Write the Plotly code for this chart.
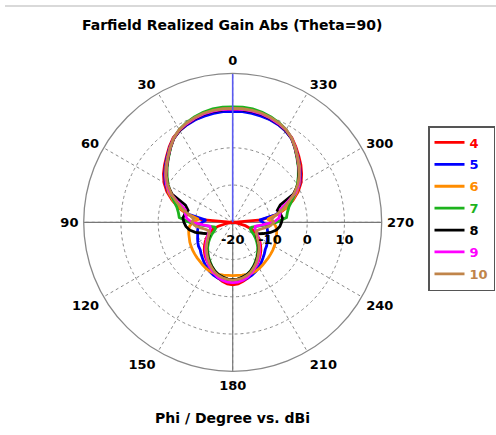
import plotly.graph_objects as go

phi = list(range(0, 360, 5))

names = ["4", "5", "6", "7", "8", "9", "10"]
colors = ["#FF0000", "#0000FF", "#FF8C00", "#1DB31D", "#000000", "#FF00FF", "#C0844A"]

gain_4 = [10.0, 10.0, 9.9, 9.7, 9.4, 9.0, 8.5, 7.8, 6.5, 5.1, 3.9, 2.7, 1.3, -0.5, -2.7, -5.0, -7.6, -11.6,
          -20, -20, -18.5, -16.0, -14.2, -13.0, -12.0, -11.0, -10.1, -9.2, -8.4, -7.7, -7.0, -6.1, -5.3, -4.6, -3.9, -3.4,
          -3.2, -3.4, -3.9, -4.5, -5.2, -6.0, -6.9, -7.7, -8.5, -9.3, -10.2, -11.1, -12.1, -13.2, -14.5, -16.5, -19.0, -20,
          -20, -12.3, -7.8, -5.1, -2.8, -0.6, 1.2, 2.6, 3.9, 5.1, 6.4, 7.7, 8.5, 9.0, 9.4, 9.7, 9.9, 10.0]
gain_5 = [9.8, 9.8, 9.7, 9.5, 9.3, 8.9, 8.4, 7.6, 6.3, 4.9, 3.6, 2.3, 0.9, -0.9, -3.1, -5.4, -8.2, -12.8,
          -11.8, -10.9, -10.5, -10.2, -10.0, -9.6, -9.2, -8.8, -8.6, -8.0, -7.4, -6.7, -6.0, -5.4, -4.9, -4.5, -4.2, -4.0,
          -3.9, -4.0, -4.2, -4.5, -4.9, -5.4, -6.0, -6.7, -7.4, -8.0, -8.6, -8.9, -9.3, -9.7, -10.1, -10.3, -10.6, -11.0,
          -11.9, -12.8, -8.3, -5.5, -3.2, -1.0, 0.8, 2.2, 3.5, 4.8, 6.2, 7.5, 8.3, 8.9, 9.3, 9.5, 9.7, 9.8]
gain_6 = [10.5, 10.5, 10.4, 10.1, 9.7, 9.2, 8.5, 7.6, 6.2, 4.7, 3.4, 2.0, 0.6, -1.0, -3.0, -5.3, -8.0, -10.8,
          -9.3, -8.4, -8.0, -7.8, -7.6, -7.3, -7.1, -6.9, -6.7, -6.5, -6.3, -6.0, -5.7, -5.5, -5.4, -5.5, -5.6, -5.7,
          -5.7, -5.7, -5.6, -5.5, -5.4, -5.5, -5.7, -6.0, -6.3, -6.5, -6.7, -6.9, -7.1, -7.3, -7.6, -7.8, -8.0, -8.4,
          -9.2, -10.6, -8.0, -5.3, -3.0, -1.0, 0.6, 2.0, 3.4, 4.7, 6.2, 7.6, 8.5, 9.2, 9.7, 10.1, 10.4, 10.5]
gain_7 = [11.0, 11.0, 10.9, 10.6, 10.1, 9.5, 8.7, 7.6, 6.0, 4.4, 3.0, 1.5, 0.0, -1.6, -3.2, -4.5, -5.2, -5.6,
          -8.5, -11.5, -13.8, -15.0, -15.1, -14.5, -13.5, -12.5, -11.5, -10.5, -9.6, -8.7, -7.8, -6.9, -6.1, -5.4, -5.0, -4.7,
          -4.6, -4.7, -5.0, -5.4, -6.1, -6.9, -7.8, -8.7, -9.6, -10.5, -11.5, -12.5, -13.5, -14.5, -15.0, -14.8, -13.6, -11.3,
          -8.3, -5.5, -5.1, -4.4, -3.1, -1.5, 0.0, 1.5, 3.0, 4.4, 6.0, 7.6, 8.7, 9.5, 10.1, 10.6, 10.9, 11.0]
gain_8 = [10.3, 10.3, 10.2, 10.0, 9.6, 9.1, 8.5, 7.5, 6.0, 4.5, 3.1, 1.7, 0.3, -2.0, -6.5, -7.6, -7.0, -6.6,
          -6.9, -7.4, -8.2, -9.6, -11.4, -12.7, -12.7, -11.9, -11.0, -10.1, -9.3, -8.5, -7.6, -6.8, -6.0, -5.4, -5.0, -4.7,
          -4.6, -4.7, -5.0, -5.4, -6.0, -6.8, -7.6, -8.5, -9.3, -10.1, -11.0, -11.9, -12.7, -12.6, -11.2, -9.5, -8.1, -7.3,
          -6.9, -6.6, -7.0, -7.6, -6.4, -2.0, 0.3, 1.7, 3.1, 4.5, 6.0, 7.5, 8.5, 9.1, 9.6, 10.0, 10.2, 10.3]
gain_9 = [10.4, 10.4, 10.3, 10.1, 9.7, 9.2, 8.6, 7.6, 6.1, 4.6, 3.2, 1.9, 0.5, -1.5, -4.5, -6.8, -7.1, -7.6,
          -9.0, -12.0, -13.8, -13.8, -13.4, -12.8, -12.2, -11.4, -10.6, -9.7, -8.8, -7.9, -7.0, -6.2, -5.4, -4.7, -4.2, -3.9,
          -3.8, -3.9, -4.2, -4.7, -5.4, -6.2, -7.0, -7.9, -8.8, -9.7, -10.6, -11.4, -12.2, -12.8, -13.4, -13.8, -13.8, -12.0,
          -9.0, -7.6, -7.1, -6.8, -4.5, -1.5, 0.5, 1.9, 3.2, 4.6, 6.1, 7.6, 8.6, 9.2, 9.7, 10.1, 10.3, 10.4]
gain_10 = [10.6, 10.6, 10.5, 10.3, 9.9, 9.4, 8.7, 7.6, 6.1, 4.6, 3.2, 1.8, 0.2, -1.8, -4.0, -6.0, -8.0, -9.5,
           -9.0, -9.8, -11.3, -12.6, -13.2, -13.0, -12.5, -11.8, -10.9, -10.0, -9.2, -8.3, -7.4, -6.6, -5.8, -5.2, -4.8, -4.6,
           -4.5, -4.6, -4.8, -5.2, -5.8, -6.6, -7.4, -8.3, -9.2, -10.0, -10.9, -11.8, -12.5, -13.0, -13.2, -12.6, -11.3, -9.8,
           -9.0, -9.5, -8.0, -6.0, -4.0, -1.8, 0.2, 1.8, 3.2, 4.6, 6.1, 7.6, 8.7, 9.4, 9.9, 10.3, 10.5, 10.6]

series = [gain_4, gain_5, gain_6, gain_7, gain_8, gain_9, gain_10]

angle_ticks = list(range(0, 360, 30))
radial_ticks = [-20, -10, 0, 10]
r_min, r_max = -20, 20

FONT = "DejaVu Sans"

fig = go.Figure()

# solid cross lines (grey)
fig.add_trace(go.Scatterpolar(r=[r_max, r_min, r_max], theta=[90, 90, 270], mode="lines",
                              line=dict(color="#777777", width=1.2), showlegend=False, hoverinfo="skip"))
fig.add_trace(go.Scatterpolar(r=[r_min, r_max], theta=[180, 180], mode="lines",
                              line=dict(color="#777777", width=1.2), showlegend=False, hoverinfo="skip"))

for name, col, vals in zip(names, colors, series):
    fig.add_trace(go.Scatterpolar(
        r=vals + [vals[0]], theta=phi + [360], mode="lines",
        line=dict(color=col, width=2.8),
        name="<span style='color:%s'><b>%s</b></span>" % (col, name),
        legendgroup=name,
    ))

# main direction marker (blue)
fig.add_trace(go.Scatterpolar(r=[r_min, r_max], theta=[0, 0], mode="lines",
                              line=dict(color="#5A5AF0", width=1.6), showlegend=False, hoverinfo="skip"))

W, H = 496, 435
cx, cy, R = 232.7, 222.3, 149.0
fig.update_layout(
    width=W, height=H, autosize=False,
    margin=dict(l=0, r=0, t=0, b=0),
    paper_bgcolor="white", plot_bgcolor="white",
    font=dict(family=FONT, size=13, color="black"),
    polar=dict(
        domain=dict(x=[(cx - R) / W, (cx + R) / W], y=[(H - cy - R) / H, (H - cy + R) / H]),
        bgcolor="white",
        angularaxis=dict(
            rotation=90, direction="counterclockwise",
            tickmode="array", tickvals=angle_ticks, ticktext=[str(a) for a in angle_ticks],
            ticks="outside", ticklen=2, tickcolor="rgba(0,0,0,0)",
            showline=True, linecolor="#888888", linewidth=1.3,
            showgrid=True, gridcolor="#8a8a8a", griddash="dot", gridwidth=1,
            tickfont=dict(family=FONT, size=13, color="black", weight="bold"),
        ),
        radialaxis=dict(
            range=[r_min, r_max], angle=0, side="clockwise",
            tickmode="array", tickvals=radial_ticks, ticktext=[str(v) for v in radial_ticks],
            ticks="outside", ticklen=6, tickcolor="rgba(0,0,0,0)", showline=False,
            showgrid=True, gridcolor="#8a8a8a", griddash="dot", gridwidth=1,
            tickfont=dict(family=FONT, size=13, color="black", weight="bold"),
            tickangle=0,
        ),
    ),
    legend=dict(
        x=428 / W, y=1 - 126 / H, xanchor="left", yanchor="top",
        bordercolor="#555555", borderwidth=1.5, bgcolor="white",
        font=dict(family=FONT, size=13, weight="bold"),
        itemwidth=30, tracegroupgap=2,
    ),
    showlegend=True,
    annotations=[
        dict(text="<b>Farfield Realized Gain Abs (Theta=90)</b>", x=232 / W, y=1 - 25 / H,
             xref="paper", yref="paper", showarrow=False, xanchor="center", yanchor="middle",
             font=dict(family=FONT, size=14, color="black")),
        dict(text="<b>Phi / Degree vs. dBi</b>", x=232.5 / W, y=1 - 418 / H,
             xref="paper", yref="paper", showarrow=False, xanchor="center", yanchor="middle",
             font=dict(family=FONT, size=14, color="black")),
    ],
    shapes=[
        dict(type="line", xref="paper", yref="paper", x0=5 / W, x1=1, y0=1 - 6 / H, y1=1 - 6 / H,
             line=dict(color="#CCCCCC", width=1.5)),
    ],
)

fig.write_html("out.html", config={"displayModeBar": False},
               post_script="document.body.style.margin='0px';")
